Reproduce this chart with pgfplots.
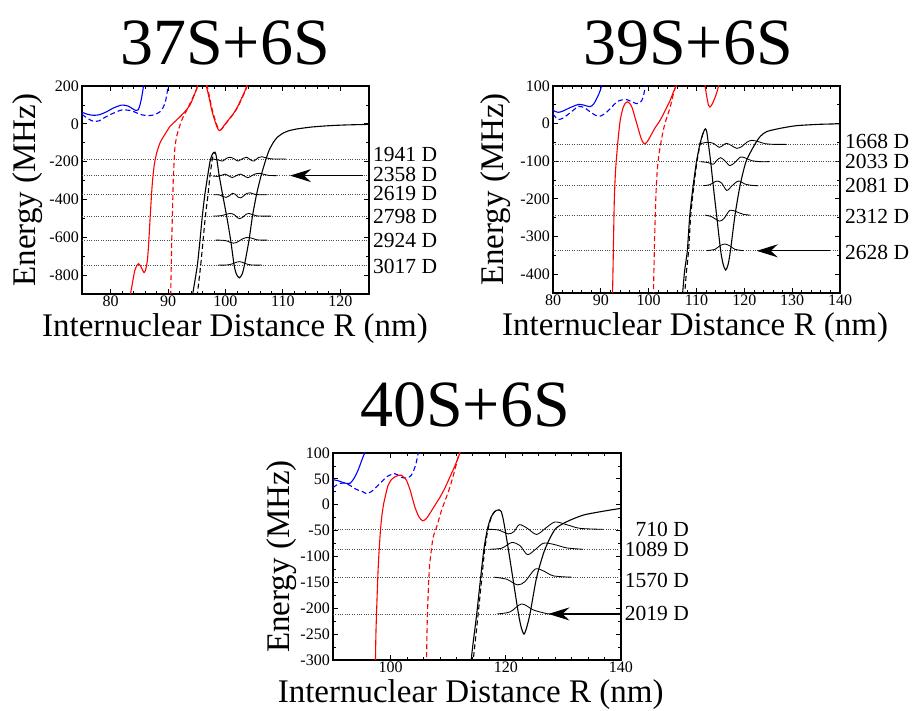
\documentclass[border=0pt]{standalone}
\usepackage{fontspec}
\setmainfont{Liberation Serif}
\usepackage{pgfplots}
\pgfplotsset{compat=1.18}
\usetikzlibrary{arrows.meta}

\newcommand{\lblfont}{\fontsize{21.5}{21.5}\selectfont}
\pgfplotsset{
  panel/.style={
    scale only axis,
    anchor=south west,
    clip mode=individual,
    axis line style={line width=1.2pt},
    every tick/.style={black, line width=0.8pt},
    major tick length=5pt,
    minor tick length=3pt,
    tick align=inside,
    tick label style={font=\fontsize{16}{16}\selectfont},
    xticklabel style={anchor=north, inner sep=0pt, yshift=-2pt},
    yticklabel style={anchor=east, inner sep=0pt, xshift=-3pt},
    label style={font=\fontsize{33}{33}\selectfont},
    xlabel={Internuclear Distance R (nm)},
    ylabel={Energy (MHz)},
    scaled ticks=false,
  },
  pr/.style={red, line width=1.1pt, smooth, tension=0.4},
  prd/.style={red, line width=1.1pt, smooth, tension=0.4, dash pattern=on 5pt off 3pt},
  pb/.style={blue, line width=1.1pt, smooth, tension=0.4},
  pbd/.style={blue, line width=1.1pt, smooth, tension=0.4, dash pattern=on 5pt off 3pt},
  pk/.style={black, line width=1.1pt, smooth, tension=0.4},
  pkd/.style={black, line width=1.1pt, smooth, tension=0.4, dash pattern=on 5pt off 3pt},
  wv/.style={black, line width=0.85pt, smooth, tension=0.5},
  lvl/.style={gray!60!black, line width=0.75pt, dash pattern=on 0.75pt off 1.6pt},
  arr/.style={black, line width=1.3pt, -{Stealth[length=21pt,width=13pt,inset=7pt]}},
}

\begin{document}
\begin{tikzpicture}[x=1pt,y=1pt]
\useasboundingbox (0,0) rectangle (914,711);

\node[anchor=base, font=\fontsize{66}{66}\selectfont] at (225,646) {37S+6S};
\node[anchor=base, font=\fontsize{66}{66}\selectfont] at (688,646) {39S+6S};
\node[anchor=base, font=\fontsize{66}{66}\selectfont] at (465,284) {40S+6S};

% ---------------- Panel 1: 37S+6S ----------------
\begin{axis}[panel,
  at={(82pt,417pt)}, width=287pt, height=208pt,
  xmin=75, xmax=125, ymin=-900, ymax=200,
  xtick={80,90,100,110,120}, xticklabels={80,90,100,110,120}, minor x tick num=4,
  ytick={-800,-600,-400,-200,0,200}, yticklabels={-800,-600,-400,-200,0,200}, minor y tick num=1,
  xlabel style={at={(rel axis cs:0.533,0)}, anchor=base, yshift=-43pt, inner sep=0pt},
  ylabel style={at={(rel axis cs:-0.188,0.5)}, anchor=center, inner sep=0pt},
]
\addplot[lvl] coordinates {(75,-186) (125,-186)};
\addplot[lvl] coordinates {(75,-274) (125,-274)};
\addplot[lvl] coordinates {(75,-375) (125,-375)};
\addplot[lvl] coordinates {(75,-488) (125,-488)};
\addplot[lvl] coordinates {(75,-615) (125,-615)};
\addplot[lvl] coordinates {(75,-747) (125,-747)};
% blue
\addplot[pb] coordinates {(75,61) (76,50) (77,45) (78,48) (79.3,64) (80.5,84) (81.9,99) (83,94) (84.4,70) (84.8,74) (85.1,100) (85.4,140) (85.7,196) (85.75,210)};
\addplot[pbd] coordinates {(75,50) (76,28) (77,13) (78,16) (78.7,29) (80,50) (81.9,73) (83.5,70) (84.5,58) (85.5,47) (86.6,43) (87.6,48) (88.6,64) (89.2,90) (89.6,126) (90,196) (90.05,210)};
% red
\addplot[pr] coordinates {(83.4,-910) (83.8,-840) (84.2,-775) (84.6,-747) (84.85,-740) (85.2,-752) (85.8,-787) (86.1,-770) (86.4,-720) (86.6,-640) (86.85,-509) (87.1,-380) (87.3,-297) (87.6,-215) (88.0,-156) (88.6,-100) (89.2,-68) (90.3,-15) (91.2,12) (92.1,38) (93.0,67) (93.8,99) (94.4,140) (95.0,188) (95.2,210)};
\addplot[prd] coordinates {(90.45,-910) (90.55,-750) (90.65,-600) (90.8,-420) (90.9,-297) (91.05,-200) (91.2,-121) (91.5,-65) (91.8,-33) (92.2,5) (92.65,38) (93.3,75) (94.1,126) (94.7,165) (95.2,200) (95.3,210)};
\addplot[pr] coordinates {(96.65,210) (96.7,196) (97.2,130) (97.6,73) (98.1,20) (98.5,-15) (98.8,-33) (99.0,-36) (99.3,-28) (99.6,-15) (100.5,20) (101.4,55) (102.1,90) (102.8,135) (103.4,175) (103.7,200) (103.8,210)};
\addplot[prd] coordinates {(96.75,210) (97.3,130) (97.7,73) (98.2,20) (98.6,-15) (98.9,-30) (99.1,-33) (99.4,-26) (99.7,-13) (100.6,22) (101.5,57) (102.2,92) (102.9,137) (103.5,177) (103.8,205) (103.9,210)};
% black
\addplot[pk] coordinates {(94.2,-910) (94.4,-880) (95.1,-747) (95.56,-615) (95.96,-488) (96.4,-375) (96.9,-274) (97.3,-200) (97.6,-168) (97.9,-153) (98.15,-150) (98.35,-165) (98.5,-190) (98.9,-274) (99.5,-375) (100.2,-488) (100.9,-615) (101.5,-747) (101.9,-795) (102.4,-815) (102.9,-795) (103.3,-747) (104.1,-615) (104.7,-488) (105.4,-375) (106.2,-274) (107.06,-186) (107.6,-140) (108.3,-100) (109.0,-72) (110,-50) (111,-37) (112.5,-27) (115,-17) (118,-10) (121,-6) (125,-3)};
\addplot[pkd] coordinates {(95.0,-910) (95.1,-900) (95.68,-747) (96.1,-615) (96.5,-488) (96.95,-375) (97.3,-274) (97.7,-186) (97.95,-158) (98.15,-150)};
% wavefunctions
\addplot[wv] coordinates {(97.6,-186) (98.2,-188) (98.75,-191) (99.5,-197) (100.2,-182) (100.9,-177) (101.65,-188) (102.2,-197) (103.1,-182) (103.7,-177) (104.4,-191) (104.96,-197) (105.7,-179) (106.3,-174) (107.2,-181) (108.3,-186) (110.5,-186)};
\addplot[wv] coordinates {(97.8,-276) (98.6,-278) (99.3,-272) (99.9,-266) (100.6,-276) (101.2,-284) (101.9,-274) (102.6,-266) (103.3,-276) (103.9,-285) (104.6,-274) (105.3,-264) (106.0,-262) (106.8,-268) (107.6,-273) (108.9,-274)};
\addplot[wv] coordinates {(97.9,-375) (98.9,-376) (99.6,-385) (100.1,-389) (100.7,-380) (101.2,-368) (101.7,-372) (102.2,-388) (102.6,-392) (103.1,-383) (103.7,-368) (104.3,-365) (105.0,-372) (105.8,-375) (107.3,-375)};
\addplot[wv] coordinates {(97.9,-488) (99.2,-486) (100.2,-478) (100.8,-474) (101.5,-480) (102.1,-497) (102.5,-502) (103.0,-494) (103.6,-478) (104.1,-474) (104.7,-480) (105.5,-487) (106.5,-488) (107.9,-488)};
\addplot[wv] coordinates {(98.3,-615) (99.5,-616) (100.3,-620) (100.9,-628) (101.4,-631) (101.9,-628) (102.4,-619) (103.0,-608) (103.6,-602) (104.1,-601) (104.7,-606) (105.4,-613) (106.2,-615) (107.3,-615)};
\addplot[wv] coordinates {(98.75,-747) (100.0,-747) (100.8,-744) (101.5,-737) (102.0,-731) (102.4,-729) (102.8,-731) (103.3,-737) (104.0,-744) (104.8,-747) (106.3,-747)};
\addplot[arr] coordinates {(124,-274) (111.25,-274)};
\node[anchor=west, inner sep=0pt, xshift=4pt, font=\lblfont] at (axis cs:125,-163) {1941 D};
\node[anchor=west, inner sep=0pt, xshift=4pt, font=\lblfont] at (axis cs:125,-266) {2358 D};
\node[anchor=west, inner sep=0pt, xshift=4pt, font=\lblfont] at (axis cs:125,-366) {2619 D};
\node[anchor=west, inner sep=0pt, xshift=4pt, font=\lblfont] at (axis cs:125,-488) {2798 D};
\node[anchor=west, inner sep=0pt, xshift=4pt, font=\lblfont] at (axis cs:125,-615) {2924 D};
\node[anchor=west, inner sep=0pt, xshift=4pt, font=\lblfont] at (axis cs:125,-756) {3017 D};
\end{axis}

% ---------------- Panel 2: 39S+6S ----------------
\begin{axis}[panel,
  at={(553pt,418pt)}, width=287pt, height=207pt,
  xmin=80, xmax=140, ymin=-450, ymax=100,
  xtick={80,90,100,110,120,130,140}, xticklabels={80,90,100,110,120,130,140}, minor x tick num=4,
  ytick={-400,-300,-200,-100,0,100}, yticklabels={-400,-300,-200,-100,0,100}, minor y tick num=1,
  xlabel style={at={(rel axis cs:0.495,0)}, anchor=base, yshift=-43pt, inner sep=0pt},
  ylabel style={at={(rel axis cs:-0.199,0.5)}, anchor=center, inner sep=0pt},
]
\addplot[lvl] coordinates {(80,-55) (140,-55)};
\addplot[lvl] coordinates {(80,-101) (140,-101)};
\addplot[lvl] coordinates {(80,-165) (140,-165)};
\addplot[lvl] coordinates {(80,-243) (140,-243)};
\addplot[lvl] coordinates {(80,-337.5) (140,-337.5)};
\addplot[pb] coordinates {(80,36) (80.5,32) (81.1,30) (82,33) (83.5,42) (85.3,51) (86.5,49) (87.7,45) (88.5,52) (89.5,76) (90.0,93) (90.3,106)};
\addplot[pbd] coordinates {(80,26) (80.6,16) (81.2,11) (82,14) (82.9,22) (84.2,35) (85.35,46) (86.6,42) (87.8,31) (88.9,22) (89.9,20) (91,28) (92,40) (93.35,58) (94.4,63) (95.4,64) (96.5,58) (97.5,53) (98.2,56) (98.7,65) (99.1,85) (99.3,100) (99.35,105)};
\addplot[pr] coordinates {(92.4,-460) (92.45,-450) (92.6,-350) (92.8,-212) (93.05,-130) (93.35,-79) (93.7,-30) (94.05,9) (94.4,30) (94.7,44) (95.1,54) (95.6,58) (96.0,54) (96.5,44) (97.2,14) (97.9,-17) (98.5,-42) (99.1,-54) (99.7,-48) (100.3,-35) (101.3,-12) (102.4,9) (103.5,36) (104.5,62) (105.2,85) (105.7,99) (105.8,105)};
\addplot[prd] coordinates {(100.95,-460) (101.0,-450) (101.2,-330) (101.35,-256) (101.55,-180) (101.8,-123) (102.1,-86) (102.4,-62) (102.9,-27) (103.4,0) (104.5,44) (105.1,75) (105.5,93) (105.8,105)};
\addplot[pr] coordinates {(111.75,105) (111.8,99) (112.2,68) (112.5,49) (112.8,44) (113.1,48) (113.5,58) (114.1,77) (114.6,99) (114.7,105)};
\addplot[pk] coordinates {(107.0,-460) (107.1,-450) (107.5,-393) (108.08,-337.5) (108.6,-243) (109.3,-165) (110.0,-101) (110.7,-55) (111.3,-28) (111.7,-16) (111.9,-14) (112.15,-22) (112.5,-55) (112.96,-101) (113.5,-165) (114.2,-243) (115.05,-337.5) (115.6,-375) (116.1,-389) (116.6,-375) (117.1,-337.5) (118.05,-243) (119.1,-165) (120.35,-101) (122.2,-55) (123.4,-33) (124.7,-21) (127.5,-12.5) (130.9,-5.4) (135.8,-1.8) (140,-0.5)};
\addplot[pkd] coordinates {(107.5,-460) (107.55,-450) (107.9,-393) (108.35,-337.5) (108.8,-243) (109.45,-165) (110.1,-101) (110.75,-55) (111.3,-28) (111.7,-16) (111.9,-14)};
\addplot[wv] coordinates {(110.38,-55) (112.12,-49.7) (113.52,-52.3) (114.77,-63) (115.61,-56.8) (116.31,-52.3) (117.35,-58.5) (118.4,-65.6) (119.44,-61.2) (120.49,-49.7) (121.53,-44.4) (122.93,-47.9) (124.32,-53.2) (126.06,-55) (128.71,-55)};
\addplot[wv] coordinates {(110.87,-101) (112.47,-103.7) (113.52,-108) (114.22,-98) (115.05,-90.4) (115.96,-99.2) (117.0,-111.6) (118.05,-102.8) (119.23,-88.6) (120.35,-92.1) (121.53,-98.3) (123.27,-101) (125.2,-101)};
\addplot[wv] coordinates {(111.43,-165) (112.82,-162) (114.22,-152.6) (115.26,-158) (116.31,-177.4) (117.35,-166) (118.75,-152.6) (120.14,-160.6) (121.53,-164) (122.93,-165)};
\addplot[wv] coordinates {(111.78,-243) (113.17,-247.4) (114.77,-259) (115.75,-252) (117.0,-230) (118.4,-234.5) (119.79,-241) (121.18,-243)};
\addplot[wv] coordinates {(112.12,-337.5) (113.87,-334) (114.91,-324.2) (115.96,-319.8) (117.0,-325.1) (118.05,-334) (119.79,-337.5)};
\addplot[arr] coordinates {(137.9,-338) (122.6,-338)};
\node[anchor=west, inner sep=0pt, xshift=5pt, font=\lblfont] at (axis cs:140,-47) {1668 D};
\node[anchor=west, inner sep=0pt, xshift=5pt, font=\lblfont] at (axis cs:140,-99.5) {2033 D};
\node[anchor=west, inner sep=0pt, xshift=5pt, font=\lblfont] at (axis cs:140,-163) {2081 D};
\node[anchor=west, inner sep=0pt, xshift=5pt, font=\lblfont] at (axis cs:140,-247) {2312 D};
\node[anchor=west, inner sep=0pt, xshift=5pt, font=\lblfont] at (axis cs:140,-342) {2628 D};
\end{axis}

% ---------------- Panel 3: 40S+6S ----------------
\begin{axis}[panel,
  at={(333pt,51pt)}, width=288pt, height=207pt,
  xmin=90, xmax=140, ymin=-300, ymax=100,
  xtick={100,120,140}, xticklabels={100,120,140}, minor x tick num=6,
  ytick={-300,-250,-200,-150,-100,-50,0,50,100}, yticklabels={-300,-250,-200,-150,-100,-50,0,50,100}, minor y tick num=1,
  xlabel style={at={(rel axis cs:0.478,0)}, anchor=base, yshift=-43pt, inner sep=0pt},
  ylabel style={at={(rel axis cs:-0.177,0.5)}, anchor=center, inner sep=0pt},
]
\addplot[lvl] coordinates {(90,-47.5) (140,-47.5)};
\addplot[lvl] coordinates {(90,-86) (140,-86)};
\addplot[lvl] coordinates {(90,-140) (140,-140)};
\addplot[lvl] coordinates {(90,-211) (140,-211)};
\addplot[pb] coordinates {(90,48.6) (91,46) (92,42) (92.9,41) (93.6,50) (94.35,66.6) (94.8,80) (95.2,92) (95.5,100) (95.6,105)};
\addplot[pbd] coordinates {(90,33) (90.6,38) (91.2,41) (92,42) (93,37) (94,30) (95.2,25) (95.8,21.5) (96.6,25) (97.5,34) (98.4,44) (99.3,53.7) (100.0,58) (100.7,60) (101.2,58) (101.6,54) (102.2,52) (102.8,52) (103.3,54) (103.6,57) (104.0,66) (104.4,79) (104.8,100) (104.85,105)};
\addplot[pr] coordinates {(97.35,-310) (97.37,-300) (97.45,-250) (97.54,-216) (97.68,-170) (97.83,-126) (98.0,-90) (98.24,-49) (98.5,-20) (98.8,2) (99.2,22) (99.57,37.6) (100.1,48) (100.73,53.7) (101.3,56.5) (101.9,57) (102.3,53) (102.76,47) (103.4,28) (104.2,-4) (104.9,-23) (105.55,-31) (106.2,-27) (106.8,-17) (107.7,-1) (108.6,15) (109.5,34) (110.3,53.7) (111.2,76) (112.04,100) (112.1,105)};
\addplot[prd] coordinates {(106.22,-310) (106.24,-300) (106.35,-230) (106.5,-178) (106.65,-140) (106.8,-113.5) (107.1,-85) (107.4,-62) (108.0,-42.8) (108.85,-10.6) (109.6,12) (110.3,34) (111.1,65) (111.9,100) (112.0,105)};
\addplot[pk] coordinates {(113.95,-310) (114.0,-300) (114.25,-274) (114.95,-211) (115.64,-140) (116.2,-86) (116.8,-47.5) (117.4,-25) (118.0,-14) (118.5,-10.5) (118.88,-10) (119.2,-13) (119.5,-25) (119.87,-47.5) (120.44,-86) (121.2,-140) (122.2,-211) (122.7,-238) (123.16,-250) (123.6,-238) (124.2,-211) (125.36,-140) (126.8,-86) (128.55,-47.5) (130.6,-32.7) (133.5,-19.8) (137.5,-11.4) (140,-7)};
\addplot[pkd] coordinates {(114.3,-310) (114.35,-300) (114.6,-274) (115.2,-211) (115.85,-140) (116.35,-86) (116.9,-47.5) (117.45,-25) (118.0,-14) (118.5,-10.5) (118.88,-10)};
\addplot[wv] coordinates {(116.97,-47.5) (118.71,-48.8) (120.44,-56.3) (121.43,-51.8) (122.35,-38.5) (123.74,-45.6) (125.36,-57.4) (126.98,-44.6) (128.55,-33.3) (130.57,-38.5) (132.89,-45.6) (136.94,-47.5)};
\addplot[wv] coordinates {(117.14,-86) (119.29,-84) (121.02,-73) (122.47,-79) (123.74,-96.3) (125.07,-87) (126.52,-74.4) (128.26,-76.4) (130.57,-83.4) (133.35,-86)};
\addplot[wv] coordinates {(117.96,-140) (120.15,-143.9) (122.0,-154.8) (123.34,-148.4) (125.07,-124.5) (126.52,-127.8) (128.26,-137.4) (131.44,-140)};
\addplot[wv] coordinates {(118.53,-211) (120.73,-207.1) (122.76,-191.7) (124.78,-203.3) (127.1,-210.4) (127.97,-211)};
\addplot[arr] coordinates {(140,-211) (127.4,-211)};
\node[anchor=east, inner sep=0pt, xshift=68pt, font=\lblfont] at (axis cs:140,-47) {710 D};
\node[anchor=east, inner sep=0pt, xshift=68pt, font=\lblfont] at (axis cs:140,-86.5) {1089 D};
\node[anchor=east, inner sep=0pt, xshift=68pt, font=\lblfont] at (axis cs:140,-145.6) {1570 D};
\node[anchor=east, inner sep=0pt, xshift=68pt, font=\lblfont] at (axis cs:140,-210.6) {2019 D};
\end{axis}
\end{tikzpicture}
\end{document}
